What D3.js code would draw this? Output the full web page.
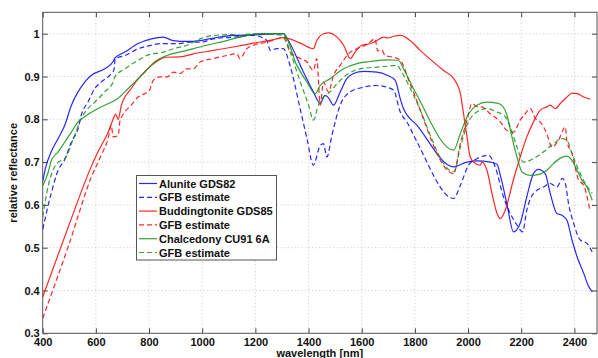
<!DOCTYPE html>
<html><head><meta charset="utf-8">
<script src="https://cdn.jsdelivr.net/npm/d3@7"></script>
<style>
html,body{margin:0;padding:0;background:#fff;}
svg{display:block;font-family:"Liberation Sans",Arial,sans-serif;}
</style>
</head><body>
<svg id="c" width="598" height="358"></svg>
<script>
// ---------- data (wavelength nm, relative reflectance) ----------
const xTicks = [400,600,800,1000,1200,1400,1600,1800,2000,2200,2400];
const yTicks = [0.3,0.4,0.5,0.6,0.7,0.8,0.9,1];
const legendLabels = ["Alunite GDS82","GFB estimate","Buddingtonite GDS85","GFB estimate","Chalcedony CU91 6A","GFB estimate"];

const alunite = [[400,0.655],[410,0.685],[432,0.724],[458,0.755],[483,0.786],[508,0.833],[533,0.864],[558,0.887],[583,0.903],[633,0.918],[665,0.935],[671,0.943],[709,0.957],[759,0.977],[809,0.988],[853,0.992],[891,0.984],[943,0.982],[992,0.984],[1042,0.99],[1117,0.996],[1218,0.998],[1305,1.0],[1318,0.99],[1381,0.91],[1418,0.864],[1444,0.837],[1462,0.856],[1475,0.85],[1494,0.833],[1519,0.864],[1544,0.895],[1569,0.907],[1607,0.912],[1657,0.91],[1695,0.903],[1726,0.891],[1745,0.848],[1757,0.825],[1808,0.786],[1946,0.689],[1996,0.70],[2033,0.703],[2083,0.70],[2109,0.695],[2121,0.67],[2146,0.603],[2171,0.537],[2196,0.557],[2221,0.619],[2246,0.673],[2265,0.683],[2290,0.673],[2309,0.627],[2334,0.58],[2353,0.576],[2372,0.564],[2391,0.518],[2410,0.479],[2435,0.44],[2454,0.409],[2467,0.397]];
const aluniteGFB = [[400,0.543],[432,0.627],[458,0.681],[483,0.706],[508,0.747],[533,0.778],[545,0.81],[570,0.84],[596,0.872],[620,0.887],[652,0.903],[668,0.915],[673,0.942],[709,0.949],[759,0.965],[809,0.973],[842,0.977],[917,0.977],[942,0.98],[992,0.98],[1042,0.988],[1117,0.992],[1193,0.996],[1243,0.984],[1256,0.961],[1281,0.965],[1305,0.965],[1331,0.924],[1369,0.823],[1394,0.755],[1418,0.693],[1444,0.739],[1456,0.743],[1469,0.712],[1488,0.763],[1519,0.833],[1557,0.864],[1607,0.875],[1657,0.879],[1695,0.875],[1720,0.868],[1745,0.817],[1770,0.794],[1808,0.747],[1946,0.615],[1971,0.646],[2002,0.693],[2033,0.708],[2077,0.716],[2102,0.689],[2133,0.619],[2159,0.58],[2184,0.553],[2205,0.537],[2221,0.588],[2246,0.627],[2284,0.642],[2309,0.65],[2334,0.642],[2355,0.662],[2366,0.65],[2378,0.603],[2397,0.557],[2422,0.518],[2447,0.51],[2467,0.49]];
const buddingtonite = [[400,0.385],[500,0.555],[583,0.69],[608,0.724],[646,0.77],[665,0.80],[674,0.812],[684,0.80],[696,0.833],[733,0.872],[771,0.903],[809,0.926],[841,0.94],[867,0.945],[917,0.946],[967,0.953],[1042,0.961],[1117,0.969],[1193,0.978],[1268,0.986],[1305,0.991],[1369,0.978],[1418,0.965],[1431,0.984],[1456,1.0],[1475,1.002],[1507,0.992],[1532,0.973],[1557,0.942],[1575,0.957],[1600,0.973],[1632,0.977],[1657,0.984],[1682,0.992],[1700,0.99],[1720,0.994],[1745,0.996],[1782,0.984],[1820,0.961],[1908,0.914],[1946,0.895],[1971,0.86],[1983,0.813],[1996,0.759],[2008,0.712],[2027,0.697],[2046,0.693],[2052,0.70],[2071,0.681],[2090,0.627],[2109,0.58],[2121,0.568],[2140,0.588],[2171,0.66],[2196,0.712],[2221,0.759],[2246,0.794],[2271,0.821],[2296,0.829],[2309,0.833],[2328,0.825],[2347,0.837],[2372,0.852],[2391,0.861],[2410,0.86],[2435,0.852],[2459,0.847]];
const buddingtoniteGFB = [[400,0.335],[500,0.51],[583,0.665],[620,0.716],[646,0.755],[658,0.786],[665,0.759],[684,0.762],[690,0.794],[709,0.817],[733,0.833],[759,0.852],[784,0.86],[800,0.866],[816,0.891],[841,0.899],[867,0.899],[892,0.91],[917,0.907],[942,0.918],[967,0.918],[992,0.934],[1042,0.942],[1092,0.949],[1130,0.953],[1142,0.942],[1168,0.965],[1193,0.973],[1243,0.98],[1305,0.991],[1331,0.957],[1369,0.942],[1394,0.934],[1418,0.914],[1431,0.942],[1444,0.833],[1456,0.887],[1475,0.864],[1494,0.903],[1519,0.926],[1557,0.957],[1582,0.965],[1620,0.975],[1650,0.988],[1660,0.96],[1675,0.962],[1688,0.949],[1720,0.945],[1745,0.938],[1782,0.883],[1946,0.673],[1971,0.743],[1996,0.798],[2015,0.837],[2033,0.83],[2052,0.829],[2083,0.813],[2121,0.794],[2146,0.774],[2171,0.77],[2196,0.798],[2215,0.813],[2234,0.825],[2253,0.802],[2271,0.794],[2296,0.767],[2315,0.735],[2340,0.751],[2366,0.782],[2372,0.747],[2391,0.72],[2416,0.658],[2435,0.646],[2459,0.584]];
const chalcedony = [[400,0.645],[420,0.675],[432,0.703],[458,0.724],[483,0.747],[508,0.77],[533,0.794],[558,0.806],[596,0.821],[633,0.833],[665,0.842],[677,0.846],[709,0.864],[746,0.887],[784,0.91],[821,0.934],[841,0.942],[867,0.949],[942,0.961],[1017,0.973],[1092,0.984],[1142,0.992],[1218,1.0],[1305,1.0],[1356,0.926],[1394,0.887],[1425,0.86],[1444,0.879],[1481,0.895],[1532,0.918],[1582,0.93],[1632,0.935],[1695,0.939],[1738,0.938],[1757,0.918],[1808,0.856],[1946,0.728],[1971,0.767],[2002,0.813],[2033,0.833],[2071,0.84],[2109,0.838],[2128,0.832],[2146,0.81],[2165,0.759],[2184,0.712],[2203,0.677],[2234,0.669],[2271,0.672],[2296,0.681],[2322,0.697],[2353,0.711],[2372,0.714],[2391,0.704],[2410,0.681],[2428,0.658],[2447,0.642],[2467,0.611]];
const chalcedonyGFB = [[400,0.572],[420,0.642],[445,0.689],[470,0.704],[483,0.708],[520,0.763],[545,0.802],[570,0.825],[596,0.84],[633,0.864],[665,0.887],[671,0.899],[709,0.918],[759,0.938],[809,0.953],[841,0.955],[892,0.965],[942,0.973],[992,0.988],[1042,0.996],[1117,0.998],[1142,0.992],[1160,0.998],[1218,1.0],[1305,0.996],[1331,0.957],[1369,0.887],[1400,0.833],[1418,0.798],[1437,0.833],[1456,0.852],[1481,0.864],[1507,0.883],[1544,0.904],[1594,0.918],[1657,0.922],[1695,0.924],[1732,0.926],[1751,0.91],[1795,0.856],[1946,0.677],[1971,0.735],[1996,0.786],[2033,0.817],[2071,0.825],[2109,0.817],[2140,0.806],[2159,0.782],[2184,0.735],[2209,0.700],[2246,0.708],[2284,0.724],[2322,0.743],[2353,0.755],[2372,0.751],[2391,0.72],[2416,0.681],[2441,0.65],[2467,0.627]];

const seriesData = [alunite, aluniteGFB, buddingtonite, buddingtoniteGFB, chalcedony, chalcedonyGFB];
const seriesColor = ["#0000ff","#0000ff","#ff0000","#ff0000","#149014","#149014"];
const seriesDashed = [false,true,false,true,false,true];

// ---------- layout ----------
const L = 42.7, R = 597, T = 12.3, B = 333.3;
const svg = d3.select("#c");
const x = d3.scaleLinear().domain([400, 2485]).range([L, R]);
const y = d3.scaleLinear().domain([0.3, 1.05]).range([B, T]);

svg.append("defs").append("clipPath").attr("id","clip")
  .append("rect").attr("x",L).attr("y",T).attr("width",R-L).attr("height",B-T);

// grid
const grid = svg.append("g").attr("stroke","#bbb").attr("stroke-width",0.8).attr("stroke-dasharray","1,2.5");
grid.selectAll(".gx").data(xTicks.filter(d=>d>400)).enter().append("line")
  .attr("x1",d=>x(d)).attr("x2",d=>x(d)).attr("y1",T).attr("y2",B);
grid.selectAll(".gy").data(yTicks.filter(d=>d>0.3)).enter().append("line")
  .attr("x1",L).attr("x2",R).attr("y1",d=>y(d)).attr("y2",d=>y(d));

// axes
function styleAxis(g){
  g.select(".domain").remove();
  g.selectAll(".tick line").attr("stroke","#444");
  g.selectAll(".tick text").attr("fill","#111").attr("font-size","11px").attr("font-weight","bold")
   .attr("font-family","'Liberation Sans',Arial,sans-serif");
}
svg.append("g").attr("transform",`translate(0,${B})`)
  .call(d3.axisBottom(x).tickValues(xTicks).tickFormat(d3.format("d")).tickSize(-5).tickPadding(5)).call(styleAxis);
svg.append("g").attr("transform",`translate(0,${T})`)
  .call(d3.axisTop(x).tickValues(xTicks).tickFormat("").tickSize(-5)).call(styleAxis);
svg.append("g").attr("transform",`translate(${L},0)`)
  .call(d3.axisLeft(y).tickValues(yTicks).tickFormat(d=>d===1?"1":d3.format(".1f")(d)).tickSize(-5).tickPadding(3)).call(styleAxis);
svg.append("g").attr("transform",`translate(${R},0)`)
  .call(d3.axisRight(y).tickValues(yTicks).tickFormat("").tickSize(-5)).call(styleAxis);

// box
svg.append("rect").attr("x",L).attr("y",T).attr("width",R-L).attr("height",B-T)
  .attr("fill","none").attr("stroke","#555").attr("stroke-width",1);

// lines
const line = d3.line().x(d=>x(d[0])).y(d=>y(d[1])).curve(d3.curveMonotoneX);
const lines = svg.append("g").attr("clip-path","url(#clip)");
seriesData.forEach((s,i)=>{
  lines.append("path").datum(s).attr("d",line).attr("fill","none")
    .attr("stroke",seriesColor[i]).attr("stroke-width",1.2).attr("stroke-opacity",0.85)
    .attr("stroke-dasharray",seriesDashed[i]?"5,3":null);
});

// labels
svg.append("text").attr("x",(L+R)/2).attr("y",357).attr("text-anchor","middle")
  .attr("font-size","11px").attr("font-weight","bold").attr("fill","#111").text("wavelength [nm]");
svg.append("text").attr("transform",`translate(17,${(T+B)/2}) rotate(-90)`).attr("text-anchor","middle")
  .attr("font-size","11px").attr("font-weight","bold").attr("fill","#111").text("relative reflectance");

// legend
const lg = svg.append("g");
lg.append("rect").attr("x",136.5).attr("y",175.5).attr("width",140).attr("height",84.5)
  .attr("fill","#fff").attr("stroke","#555").attr("stroke-width",1);
legendLabels.forEach((t,i)=>{
  const yy = 183.5 + i*13.8;
  lg.append("line").attr("x1",139).attr("x2",157).attr("y1",yy).attr("y2",yy)
    .attr("stroke",seriesColor[i]).attr("stroke-width",1.2).attr("stroke-opacity",0.85)
    .attr("stroke-dasharray",seriesDashed[i]?"5,3":null);
  lg.append("text").attr("x",159).attr("y",yy+4).attr("font-size","11px").attr("font-weight","bold")
    .attr("fill","#111").text(t);
});
</script>
</body></html>
